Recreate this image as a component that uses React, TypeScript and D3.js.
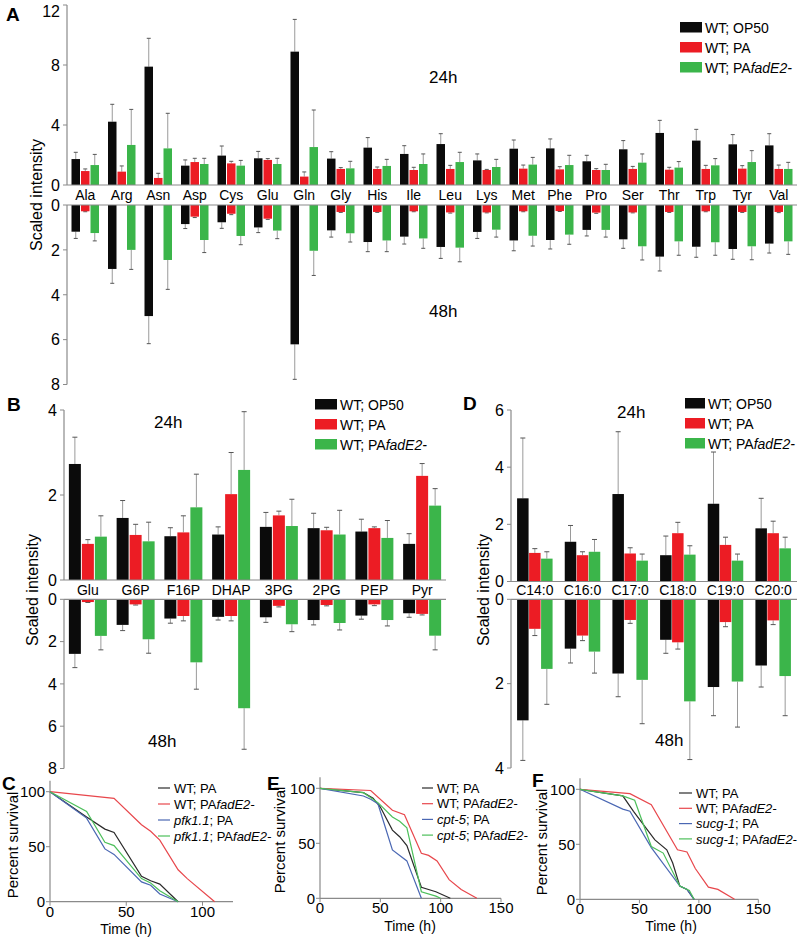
import React from 'react';
import * as d3 from 'd3';

// ---------------- Data ----------------
// Panel A: amino acids
const aaCategories = ["Ala","Arg","Asn","Asp","Cys","Glu","Gln","Gly","His","Ile","Leu","Lys","Met","Phe","Pro","Ser","Thr","Trp","Tyr","Val"];
const aaOP50_24 = [1.73,4.22,7.89,1.29,1.96,1.78,8.89,1.76,2.49,2.07,2.73,1.64,2.42,2.44,1.58,2.38,3.47,2.96,2.71,2.64];
const aaOP50_24sd = [0.45,1.16,1.89,0.38,0.64,0.46,2.15,0.46,0.67,0.55,0.69,0.43,0.58,0.63,0.40,0.58,0.84,0.75,0.65,0.78];
const aaPA_24 = [0.93,0.89,0.47,1.53,1.44,1.67,0.56,1.07,1.07,1.00,1.07,1.00,1.09,1.04,1.00,1.07,1.02,1.07,1.09,1.07];
const aaPA_24sd = [0.14,0.38,0.31,0.25,0.14,0.09,0.31,0.09,0.13,0.18,0.24,0.04,0.24,0.18,0.09,0.17,0.16,0.24,0.20,0.26];
const aaFad_24 = [1.33,2.67,2.44,1.40,1.29,1.40,2.53,1.11,1.27,1.40,1.53,1.20,1.36,1.33,1.00,1.49,1.16,1.31,1.53,1.07];
const aaFad_24sd = [0.71,2.37,2.34,0.38,0.35,0.38,2.47,0.47,0.44,0.67,0.65,0.51,0.48,0.65,0.38,0.58,0.40,0.45,0.76,0.44];
const aaOP50_48 = [1.19,2.85,4.95,0.85,0.77,1.00,6.21,1.13,1.65,1.41,1.87,1.20,1.58,1.56,1.11,1.53,2.30,1.86,1.96,1.72];
const aaOP50_48sd = [0.30,0.64,1.23,0.20,0.27,0.23,1.56,0.30,0.43,0.33,0.51,0.29,0.46,0.40,0.27,0.40,0.64,0.47,0.46,0.42];
const aaPA_48 = [0.28,0,0,0.52,0.39,0.61,0,0.31,0.31,0.28,0.33,0.33,0.28,0.27,0.34,0.33,0.31,0.28,0.31,0.31];
const aaPA_48sd = [0.02,0,0,0.04,0.04,0.03,0,0.02,0.02,0.02,0.03,0.02,0.02,0.02,0.03,0.02,0.02,0.02,0.02,0.03];
const aaFad_48 = [1.25,2.00,2.45,1.56,1.38,1.14,2.04,1.26,1.58,1.49,1.90,1.10,1.37,1.32,1.11,1.84,1.62,1.66,1.84,1.62];
const aaFad_48sd = [0.35,0.87,1.31,0.56,0.39,0.36,1.10,0.39,0.50,0.44,0.63,0.33,0.46,0.43,0.32,0.61,0.62,0.58,0.60,0.58];

// Panel B: glycolysis intermediates
const glyCategories = ["Glu","G6P","F16P","DHAP","3PG","2PG","PEP","Pyr"];
const glyOP50_24 = [2.73,1.46,1.03,1.07,1.25,1.22,1.14,0.85];
const glyOP50_24sd = [0.63,0.41,0.20,0.18,0.34,0.35,0.29,0.24];
const glyPA_24 = [0.85,1.06,1.12,2.02,1.52,1.17,1.22,2.45];
const glyPA_24sd = [0.10,0.25,0.39,0.98,0.10,0.07,0.03,0.29];
const glyFad_24 = [1.02,0.91,1.71,2.59,1.27,1.07,0.99,1.75];
const glyFad_24sd = [0.49,0.45,0.78,1.37,0.63,0.57,0.41,0.40];
const glyOP50_48 = [2.58,1.21,0.91,0.83,0.85,0.98,0.77,0.66];
const glyOP50_48sd = [0.65,0.27,0.22,0.15,0.24,0.23,0.17,0.19];
const glyPA_48 = [0.13,0.24,0.79,0.79,0.31,0.27,0.24,0.69];
const glyPA_48sd = [0.02,0.03,0.23,0.23,0.05,0.04,0.06,0.05];
const glyFad_48 = [1.73,1.89,2.98,5.15,1.18,1.12,0.98,1.72];
const glyFad_48sd = [0.66,0.66,1.27,1.94,0.35,0.33,0.28,0.67];

// Panel D: fatty acids
const faCategories = ["C14:0","C16:0","C17:0","C18:0","C19:0","C20:0"];
const faOP50_24 = [2.91,1.39,3.06,0.92,2.72,1.86];
const faOP50_24sd = [2.11,0.57,2.18,0.67,1.81,1.05];
const faPA_24 = [1.00,0.92,0.98,1.69,1.28,1.69];
const faPA_24sd = [0.15,0.12,0.20,0.38,0.27,0.42];
const faFad_24 = [0.80,1.04,0.73,0.94,0.73,1.16];
const faFad_24sd = [0.24,0.43,0.23,0.31,0.23,0.39];
const faOP50_48 = [2.87,1.17,1.76,0.96,2.08,1.57];
const faOP50_48sd = [0.95,0.34,0.55,0.32,0.68,0.51];
const faPA_48 = [0.70,0.86,0.49,1.02,0.54,0.50];
const faPA_48sd = [0.16,0.12,0.08,0.16,0.11,0.10];
const faFad_48 = [1.65,1.24,1.91,2.42,1.95,1.82];
const faFad_48sd = [0.84,0.51,1.04,1.38,1.08,0.94];

const barLegend = ["WT; OP50", "WT; PA", "WT; PA"];

// Survival curves (time in h, percent survival)
const cWtPaT = [0,24,36,42,60,66,72,84];
const cWtPaV = [100,77,66,63,23,19,16,0];
const cWtFadT = [0,42,60,66,72,84,90,108];
const cWtFadV = [100,94,70,64,56,29,21,0];
const cPfkPaT = [0,24,36,42,60,66,72,84];
const cPfkPaV = [100,76,48,43,18,15,7,0];
const cPfkFadT = [0,24,36,42,60,66,72,84];
const cPfkFadV = [100,82,54,51,21,17,10,0];

const eWtPaT = [0,36,44,50,60,66,72,84,96,108];
const eWtPaV = [100,96,91,83,62,56,48,10,6,0];
const eWtFadT = [0,42,60,70,84,90,97,107,117,130];
const eWtFadV = [100,98,80,76,41,39,34,17,8,0];
const eCptPaT = [0,36,42,48,60,72,84];
const eCptPaV = [100,93,90,86,44,34,0];
const eCptFadT = [0,36,48,60,66,72,84,96,100];
const eCptFadV = [100,96,87,74,70,64,6,2,0];

const fWtPaT = [0,36,45,63,73,78,84,90,96];
const fWtPaV = [100,94,80,54,45,33,12,9,0];
const fWtFadT = [0,42,60,82,90,97,108,116,130];
const fWtFadV = [100,96,86,45,43,28,11,9,0];
const fSucPaT = [0,36,42,60,84,90,96];
const fSucPaV = [100,82,80,47,12,9,0];
const fSucFadT = [0,36,46,60,70,84,92,96];
const fSucFadV = [100,94,90,48,42,12,8,0];

const survTicks = [0, 50, 100];

// ---------------- Styles ----------------
const FONT = "'Liberation Sans', Arial, Helvetica, sans-serif";
const BLACK = '#0b0b0b';
const RED = '#ec1c24';
const GREEN = '#3bb54a';
const AXIS = '#8a8a8a';
const ERR = '#9a9a9a';
const CAP = '#555';
const L_BLACK = '#2a2a2a';
const L_RED = '#e8474c';
const L_BLUE = '#4a67b3';
const L_GREEN = '#4cbf5a';

type Series = { v: number[]; sd: number[] };

function BarPanel(p: any) {
  const x = d3.scaleBand<string>().domain(p.cats).range(p.xRange).padding(0);
  const yU = d3.scaleLinear().domain(p.uDomain).range(p.uRange);
  const yL = d3.scaleLinear().domain(p.lDomain).range(p.lRange);
  const x0 = p.xRange[0];
  const colors = [BLACK, RED, GREEN];
  const offs = [-p.step, 0, p.step];
  const bw = p.barW;
  const half = bw / 2;
  const cap = p.capW / 2;
  const labelY = (yU(0) + yL(0)) / 2;
  return (
    <g fontFamily={FONT}>
      {/* bars upper */}
      {p.up.map((s: Series, si: number) =>
        p.cats.map((c: string, i: number) => {
          const cx = (x(c) as number) + x.bandwidth() / 2 + offs[si];
          const v = s.v[i];
          if (!v) return null;
          const top = yU(v + s.sd[i]);
          return (
            <g key={`u${si}-${i}`}>
              <line x1={cx} x2={cx} y1={yU(v)} y2={top} stroke={ERR} strokeWidth={1} />
              <line x1={cx - cap} x2={cx + cap} y1={top} y2={top} stroke={CAP} strokeWidth={1} />
              <rect x={cx - half} y={yU(v)} width={bw} height={yU(0) - yU(v)} fill={colors[si]} />
            </g>
          );
        })
      )}
      {/* bars lower */}
      {p.low.map((s: Series, si: number) =>
        p.cats.map((c: string, i: number) => {
          const cx = (x(c) as number) + x.bandwidth() / 2 + offs[si];
          const v = s.v[i];
          if (!v) return null;
          const bot = yL(v + s.sd[i]);
          return (
            <g key={`l${si}-${i}`}>
              <line x1={cx} x2={cx} y1={yL(v)} y2={bot} stroke={ERR} strokeWidth={1} />
              <line x1={cx - cap} x2={cx + cap} y1={bot} y2={bot} stroke={CAP} strokeWidth={1} />
              <rect x={cx - half} y={yL(0)} width={bw} height={yL(v) - yL(0)} fill={colors[si]} />
            </g>
          );
        })
      )}
      {/* axes */}
      <line x1={x0} x2={x0} y1={yU(p.uDomain[1])} y2={yU(0)} stroke={AXIS} strokeWidth={1.2} />
      <line x1={x0} x2={p.xRange[1]} y1={yU(0)} y2={yU(0)} stroke={AXIS} strokeWidth={1.2} />
      <line x1={x0} x2={x0} y1={yL(0)} y2={yL(p.lDomain[1])} stroke={AXIS} strokeWidth={1.2} />
      <line x1={x0} x2={p.xRange[1]} y1={yL(0)} y2={yL(0)} stroke={AXIS} strokeWidth={1.2} />
      {p.uTicks.map((t: number) => (
        <g key={`ut${t}`}>
          <line x1={x0 - 4} x2={x0} y1={yU(t)} y2={yU(t)} stroke={AXIS} />
          <text x={x0 - 7} y={Math.max(yU(t), 11)} dy="0.36em" textAnchor="end" fontSize={16}>{t}</text>
        </g>
      ))}
      {p.lTicks.map((t: number) => (
        <g key={`lt${t}`}>
          <line x1={x0 - 4} x2={x0} y1={yL(t)} y2={yL(t)} stroke={AXIS} />
          <text x={x0 - 7} y={yL(t)} dy="0.36em" textAnchor="end" fontSize={16}>{t}</text>
        </g>
      ))}
      {/* category labels */}
      {p.cats.map((c: string) => (
        <text key={`c${c}`} x={(x(c) as number) + x.bandwidth() / 2} y={labelY} dy="0.36em" textAnchor="middle" fontSize={p.catFont}>{c}</text>
      ))}
      {/* axis title */}
      <text transform={`translate(${p.titleX},${p.titleY}) rotate(-90)`} textAnchor="middle" fontSize={16}>Scaled intensity</text>
      {/* time labels */}
      <text x={p.t24[0]} y={p.t24[1]} fontSize={17}>24h</text>
      <text x={p.t48[0]} y={p.t48[1]} fontSize={17}>48h</text>
      {/* legend */}
      {barLegend.map((lab, i) => (
        <g key={`lg${i}`}>
          <rect x={p.leg[0]} y={p.leg[1] + i * 20} width={p.legW} height={10.5} fill={colors[i]} />
          <text x={p.leg[0] + p.legW + 3} y={p.leg[1] + i * 20 + 10.5} fontSize={14}>
            {lab}{i === 2 ? <tspan fontStyle="italic">fadE2-</tspan> : null}
          </text>
        </g>
      ))}
      <text x={p.letter[0]} y={p.letter[1]} fontSize={19} fontWeight="bold">{p.letterText}</text>
    </g>
  );
}

function SurvPanel(p: any) {
  const x = d3.scaleLinear().domain(p.xDomain).range(p.xRange);
  const y = d3.scaleLinear().domain([0, 110]).range(p.yRange);
  const line = d3.line<[number, number]>().x(d => x(d[0])).y(d => y(d[1]));
  const x0 = p.xRange[0];
  const y0 = p.yRange[0];
  return (
    <g fontFamily={FONT}>
      <line x1={x0} x2={x0} y1={p.yRange[1]} y2={y0} stroke={AXIS} strokeWidth={1.2} />
      <line x1={x0} x2={p.xRange[1]} y1={y0} y2={y0} stroke={AXIS} strokeWidth={1.2} />
      {survTicks.map(t => (
        <g key={`y${t}`}>
          <line x1={x0 - 4} x2={x0} y1={y(t)} y2={y(t)} stroke={AXIS} />
          <text x={x0 - 5} y={y(t)} dy="0.36em" textAnchor="end" fontSize={15}>{t}</text>
        </g>
      ))}
      {p.xTicks.map((t: number) => (
        <g key={`x${t}`}>
          <line x1={x(t)} x2={x(t)} y1={y0} y2={y0 + 4} stroke={AXIS} />
          <text x={x(t)} y={y0 + p.xLabOff} textAnchor="middle" fontSize={15}>{t}</text>
        </g>
      ))}
      {p.series.map((s: any, i: number) => (
        <path key={`s${i}`} d={line(s.t.map((t: number, j: number) => [t, s.v[j]]) as any) || ''} fill="none" stroke={s.color} strokeWidth={1.2} />
      ))}
      {p.series.map((s: any, i: number) => (
        <g key={`lg${i}`}>
          <line x1={p.leg[0]} x2={p.leg[0] + p.legLen} y1={p.leg[1] + i * p.legGap} y2={p.leg[1] + i * p.legGap} stroke={s.color} strokeWidth={1.2} />
          <text x={p.leg[0] + p.legLen + 4} y={p.leg[1] + i * p.legGap} dy="0.36em" fontSize={13}>
            {s.label.map((seg: any, k: number) => (
              <tspan key={k} fontStyle={seg.i ? 'italic' : 'normal'}>{seg.t}</tspan>
            ))}
          </text>
        </g>
      ))}
      <text x={p.xTitle[0]} y={p.xTitle[1]} textAnchor="middle" fontSize={14}>Time (h)</text>
      <text transform={`translate(${p.yTitle[0]},${p.yTitle[1]}) rotate(-90)`} textAnchor="middle" fontSize={15}>Percent survival</text>
      <text x={p.letter[0]} y={p.letter[1]} fontSize={19} fontWeight="bold">{p.letterText}</text>
    </g>
  );
}

export default function App() {
  const A = {
    cats: aaCategories,
    up: [{ v: aaOP50_24, sd: aaOP50_24sd }, { v: aaPA_24, sd: aaPA_24sd }, { v: aaFad_24, sd: aaFad_24sd }],
    low: [{ v: aaOP50_48, sd: aaOP50_48sd }, { v: aaPA_48, sd: aaPA_48sd }, { v: aaFad_48, sd: aaFad_48sd }],
  };
  const B = {
    cats: glyCategories,
    up: [{ v: glyOP50_24, sd: glyOP50_24sd }, { v: glyPA_24, sd: glyPA_24sd }, { v: glyFad_24, sd: glyFad_24sd }],
    low: [{ v: glyOP50_48, sd: glyOP50_48sd }, { v: glyPA_48, sd: glyPA_48sd }, { v: glyFad_48, sd: glyFad_48sd }],
  };
  const D = {
    cats: faCategories,
    up: [{ v: faOP50_24, sd: faOP50_24sd }, { v: faPA_24, sd: faPA_24sd }, { v: faFad_24, sd: faFad_24sd }],
    low: [{ v: faOP50_48, sd: faOP50_48sd }, { v: faPA_48, sd: faPA_48sd }, { v: faFad_48, sd: faFad_48sd }],
  };
  const fad = { t: 'fadE2-', i: true };
  return (
    <svg width={800} height={939} style={{ position: 'absolute', left: 0, top: 0, background: '#fff' }}>
      <BarPanel {...A} xRange={[67, 797]} uDomain={[0, 12]} uRange={[185, 5]} uTicks={[0, 4, 8, 12]}
        lDomain={[0, 8]} lRange={[205, 384.5]} lTicks={[0, 2, 4, 6, 8]} barW={8.5} step={9.5} capW={4}
        catFont={14} titleX={42} titleY={195} t24={[429, 83]} t48={[429, 317]} leg={[680, 22]} legW={22}
        letter={[6, 21]} letterText="A" />
      <BarPanel {...B} xRange={[64, 446]} uDomain={[0, 4]} uRange={[580, 410]} uTicks={[0, 2, 4]}
        lDomain={[0, 8]} lRange={[599.3, 768.5]} lTicks={[0, 2, 4, 6, 8]} barW={12} step={13} capW={5}
        catFont={14} titleX={38} titleY={590} t24={[154, 428]} t48={[148, 747]} leg={[315, 399]} legW={22}
        letter={[7, 411]} letterText="B" />
      <BarPanel {...D} xRange={[511, 797]} uDomain={[0, 6]} uRange={[581.5, 410]} uTicks={[0, 2, 4, 6]}
        lDomain={[0, 4]} lRange={[599.3, 768]} lTicks={[0, 2, 4]} barW={11.5} step={12} capW={5}
        catFont={14} titleX={489} titleY={590} t24={[617, 418]} t48={[655, 746]} leg={[685, 398]} legW={20}
        letter={[463, 410]} letterText="D" />
      <SurvPanel xDomain={[0, 120]} xRange={[50, 233]} yRange={[901.7, 780.7]} xTicks={[0, 50, 100]} xLabOff={15.5}
        leg={[158, 788]} legLen={12} legGap={16} xTitle={[126, 934]} yTitle={[18, 845]} letter={[2, 790]} letterText="C"
        series={[
          { t: cWtPaT, v: cWtPaV, color: L_BLACK, label: [{ t: 'WT; PA' }] },
          { t: cWtFadT, v: cWtFadV, color: L_RED, label: [{ t: 'WT; PA' }, fad] },
          { t: cPfkPaT, v: cPfkPaV, color: L_BLUE, label: [{ t: 'pfk1.1', i: true }, { t: '; PA' }] },
          { t: cPfkFadT, v: cPfkFadV, color: L_GREEN, label: [{ t: 'pfk1.1', i: true }, { t: '; PA' }, fad] },
        ]} />
      <SurvPanel xDomain={[0, 150]} xRange={[320, 501]} yRange={[898.3, 777.3]} xTicks={[0, 50, 100, 150]} xLabOff={14.5}
        leg={[422, 788]} legLen={11} legGap={15.7} xTitle={[410, 931]} yTitle={[285, 840]} letter={[267, 790]} letterText="E"
        series={[
          { t: eWtPaT, v: eWtPaV, color: L_BLACK, label: [{ t: 'WT; PA' }] },
          { t: eWtFadT, v: eWtFadV, color: L_RED, label: [{ t: 'WT; PA' }, fad] },
          { t: eCptPaT, v: eCptPaV, color: L_BLUE, label: [{ t: 'cpt-5', i: true }, { t: '; PA' }] },
          { t: eCptFadT, v: eCptFadV, color: L_GREEN, label: [{ t: 'cpt-5', i: true }, { t: '; PA' }, fad] },
        ]} />
      <SurvPanel xDomain={[0, 150]} xRange={[580, 758.3]} yRange={[899.3, 778.3]} xTicks={[0, 50, 100, 150]} xLabOff={14.5}
        leg={[679, 793]} legLen={13} legGap={15.3} xTitle={[671, 931]} yTitle={[547, 842]} letter={[532, 787]} letterText="F"
        series={[
          { t: fWtPaT, v: fWtPaV, color: L_BLACK, label: [{ t: 'WT; PA' }] },
          { t: fWtFadT, v: fWtFadV, color: L_RED, label: [{ t: 'WT; PA' }, fad] },
          { t: fSucPaT, v: fSucPaV, color: L_BLUE, label: [{ t: 'sucg-1', i: true }, { t: '; PA' }] },
          { t: fSucFadT, v: fSucFadV, color: L_GREEN, label: [{ t: 'sucg-1', i: true }, { t: '; PA' }, fad] },
        ]} />
    </svg>
  );
}
